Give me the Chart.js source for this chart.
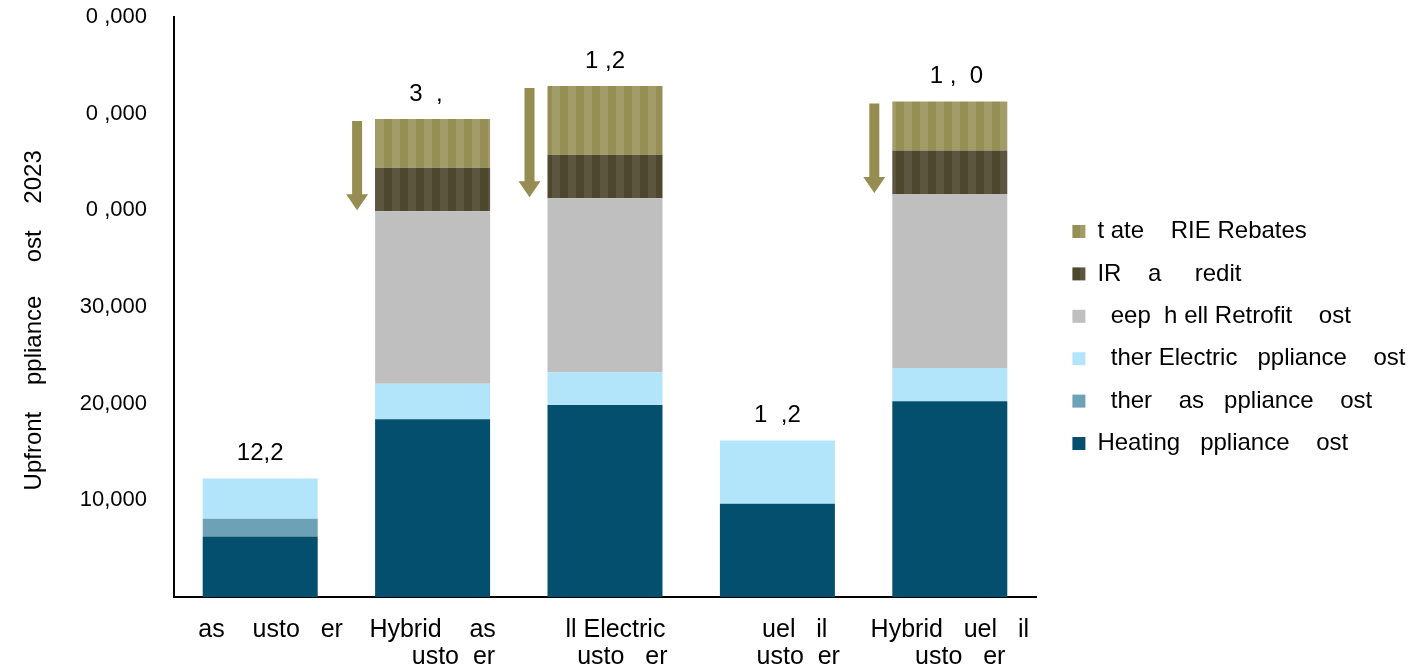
<!DOCTYPE html>
<html>
<head>
<meta charset="utf-8">
<script src="https://cdn.jsdelivr.net/npm/chart.js@4.4.1/dist/chart.umd.min.js"></script>
<style>
  body { margin: 0; background: #fff; }
  #wrap { width: 1411px; height: 666px; }
</style>
</head>
<body>
<div id="wrap"><canvas id="costChart" width="1411" height="666"></canvas></div>
<script>
// customer types (two-line labels under the bars)
var customers = [
    ["   as    usto   er"],
    ["Hybrid    as", "      usto  er"],
    ["   ll Electric", "     usto   er"],
    ["     uel   il", "      usto  er"],
    ["Hybrid   uel   il", "   usto   er"]
];

// cost components, stacked bottom to top (2023 $)
var heatingCost   = [6250, 18400, 19850, 9650, 20250];
var otherGasCost  = [1850, 0, 0, 0, 0];
var otherElecCost = [4150, 3650, 3400, 6550, 3450];
var retrofitCost  = [0, 17850, 18000, 0, 18000];
var iraCredit     = [0, 4500, 4500, 0, 4500];
var stateRebates  = [0, 5050, 7100, 0, 5050];

// net cost text above each bar
var netLabels = ["12,2", "3  ,  ", "1 ,2", "1  ,2", "  1 ,  0"];

var seriesNames = [
    "Heating   ppliance    ost",
    "  ther    as   ppliance    ost",
    "  ther Electric   ppliance    ost",
    "  eep  h ell Retrofit    ost",
    "IR    a     redit",
    "t ate    RIE Rebates"
];

var yTicks = ["", "10,000", "20,000", "30,000", "0 ,000", "0 ,000", "0 ,000"];

function stripes(dark, light) {
    var c = document.createElement("canvas");
    c.width = 16;
    c.height = 16;
    var g = c.getContext("2d");
    g.fillStyle = dark;
    g.fillRect(0, 0, 8, 16);
    g.fillStyle = light;
    g.fillRect(8, 0, 8, 16);
    return g.createPattern(c, "repeat");
}

var ctx = document.getElementById("costChart").getContext("2d");
var statePattern = stripes("#958e55", "#a29c69");
var iraPattern = stripes("#4c472d", "#5c5640");

var FONT = "'Liberation Sans', Arial, sans-serif";

// rebate arrows and the net cost labels
var overlay = {
    id: "overlay",
    afterLayout: function (chart) {
        // legend column sits a little away from the plot
        chart.legend.left += 18;
        chart.legend.top -= 4;
        chart.legend.bottom -= 4;
    },
    afterDatasetsDraw: function (chart) {
        var y = chart.scales.y;
        var meta = chart.getDatasetMeta(0);
        var c = chart.ctx;
        c.save();
        for (var i = 0; i < customers.length; i++) {
            var bar = meta.data[i];
            var net = heatingCost[i] + otherGasCost[i] + otherElecCost[i] + retrofitCost[i];
            var gross = net + iraCredit[i] + stateRebates[i];
            var topPx = y.getPixelForValue(gross);

            c.fillStyle = "#000";
            c.font = "24px " + FONT;
            c.textAlign = "center";
            c.textBaseline = "middle";
            c.fillText(netLabels[i], bar.x, topPx - 25);

            if (gross > net) {
                var ax = bar.x - bar.width / 2 - 18;
                var y0 = topPx + 2;
                var y1 = y.getPixelForValue(net) - 1;
                c.fillStyle = "#958d52";
                c.beginPath();
                c.moveTo(ax - 5, y0);
                c.lineTo(ax + 5, y0);
                c.lineTo(ax + 5, y1 - 16);
                c.lineTo(ax + 11, y1 - 16);
                c.lineTo(ax, y1);
                c.lineTo(ax - 11, y1 - 16);
                c.lineTo(ax - 5, y1 - 16);
                c.closePath();
                c.fill();
            }
        }
        c.restore();
    }
};

var chart = new Chart(ctx, {
    type: "bar",
    data: {
        labels: customers,
        datasets: [
            { label: seriesNames[0], data: heatingCost, backgroundColor: "#044f6d" },
            { label: seriesNames[1], data: otherGasCost, backgroundColor: "#6ca1b6" },
            { label: seriesNames[2], data: otherElecCost, backgroundColor: "#b2e5fa" },
            { label: seriesNames[3], data: retrofitCost, backgroundColor: "#bfbfbf" },
            { label: seriesNames[4], data: iraCredit, backgroundColor: iraPattern },
            { label: seriesNames[5], data: stateRebates, backgroundColor: statePattern }
        ]
    },
    options: {
        responsive: false,
        animation: false,
        layout: { padding: { top: 17, right: 0, left: 0, bottom: 0 } },
        datasets: {
            bar: { categoryPercentage: 0.667, barPercentage: 1.0, borderWidth: 0 }
        },
        scales: {
            x: {
                stacked: true,
                grid: { display: false },
                border: { display: true, color: "#000", width: 2 },
                ticks: {
                    color: "#000",
                    font: { family: FONT, size: 25, lineHeight: 1.08 },
                    padding: 12,
                    maxRotation: 0,
                    autoSkip: false
                },
                afterFit: function (scale) { scale.height = 69; }
            },
            y: {
                stacked: true,
                min: 0,
                max: 60000,
                grid: { display: false },
                border: { display: true, color: "#000", width: 2 },
                ticks: {
                    stepSize: 10000,
                    color: "#000",
                    font: { family: FONT, size: 22 },
                    padding: 19,
                    callback: function (v, i) { return yTicks[i]; }
                },
                title: {
                    display: true,
                    text: "Upfront    ppliance     ost    2023    ",
                    color: "#000",
                    font: { family: FONT, size: 24 },
                    padding: { top: 20, bottom: 0 }
                },
                afterFit: function (scale) {
                    scale.width = 174;
                    // top label may overhang the plot; the layout padding covers it
                    scale.paddingTop = 0;
                    scale.paddingBottom = 0;
                }
            }
        },
        plugins: {
            legend: {
                position: "right",
                reverse: true,
                labels: {
                    color: "#000",
                    font: { family: FONT, size: 24 },
                    boxWidth: 13,
                    boxHeight: 13,
                    padding: 18.4
                }
            },
            tooltip: { enabled: false }
        }
    },
    plugins: [overlay]
});

// fixed-width legend column so the plot ends at the same place
var legendFit = chart.legend.fit;
chart.legend.fit = function () {
    legendFit.call(this);
    this.width = 375;
};
chart.update();
</script>
</body>
</html>
